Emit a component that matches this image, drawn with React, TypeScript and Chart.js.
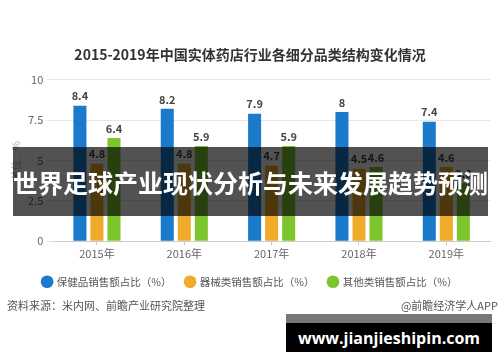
import React, { useEffect, useRef } from "react";
import { Chart, registerables } from "chart.js";

Chart.register(...registerables);

const categories = ["2015年", "2016年", "2017年", "2018年", "2019年"];
const healthValues = [8.4, 8.2, 7.9, 8, 7.4];
const deviceValues = [4.8, 4.8, 4.7, 4.5, 4.6];
const otherValues = [6.4, 5.9, 5.9, 4.6, 3.6];
const seriesNames = ["保健品销售额占比（%）", "器械类销售额占比（%）", "其他类销售额占比（%）"];
const yTicks = [0, 2.5, 5, 7.5, 10];

const FONT = "'Noto Sans CJK SC', 'Noto Sans', sans-serif";

const valueLabels = {
  id: "valueLabels",
  afterDatasetsDraw(chart: any) {
    const ctx = chart.ctx;
    ctx.save();
    ctx.font = `bold 11px ${FONT}`;
    ctx.fillStyle = "#444";
    ctx.textAlign = "center";
    ctx.textBaseline = "bottom";
    chart.data.datasets.forEach((ds: any, i: number) => {
      const meta = chart.getDatasetMeta(i);
      meta.data.forEach((bar: any, j: number) => {
        ctx.fillText(String(ds.data[j]), bar.x, bar.y - 4);
      });
    });
    ctx.restore();
  },
};

export default function App() {
  const ref = useRef<HTMLCanvasElement>(null);
  useEffect(() => {
    document.body.style.margin = "0";
    const chart = new Chart(ref.current!, {
      type: "bar",
      data: {
        labels: categories,
        datasets: [
          { label: seriesNames[0], data: healthValues, backgroundColor: "#1b7acc" },
          { label: seriesNames[1], data: deviceValues, backgroundColor: "#f0ab2a" },
          { label: seriesNames[2], data: otherValues, backgroundColor: "#7cc52d" },
        ],
      },
      options: {
        responsive: false,
        animation: false,
        devicePixelRatio: 1,
        layout: { padding: { left: 10, right: 10, top: 0, bottom: 65 } },
        datasets: { bar: { categoryPercentage: 0.585, barPercentage: 0.765 } },
        plugins: {
          title: {
            display: true,
            text: "2015-2019年中国实体药店行业各细分品类结构变化情况",
            color: "#333",
            font: { family: FONT, size: 14, weight: "bold" },
            padding: { top: 46, bottom: 17 },
          },
          legend: {
            position: "bottom",
            labels: {
              usePointStyle: true,
              pointStyle: "circle",
              boxWidth: 9,
              boxHeight: 9,
              padding: 14,
              color: "#555",
              font: { family: FONT, size: 10.5 },
            },
          },
          tooltip: { enabled: false },
        },
        scales: {
          x: {
            grid: { display: true, drawOnChartArea: false, offset: false, tickLength: 4, color: "#ccc" },
            border: { color: "#ccc" },
            ticks: { color: "#666", font: { family: FONT, size: 11 }, padding: 2 },
          },
          y: {
            min: 0,
            max: 10,
            afterBuildTicks: (axis: any) => {
              axis.ticks = yTicks.map((v) => ({ value: v }));
            },
            grid: { color: "#e6e6e6", tickLength: 6 },
            border: { display: false },
            ticks: { color: "#666", font: { family: FONT, size: 11 }, padding: 4 },
            title: {
              display: true,
              text: "单位：%",
              color: "#aaa",
              font: { family: FONT, size: 10 },
              padding: { top: 0, bottom: 2 },
            },
          },
        },
      },
      plugins: [valueLabels],
    });
    return () => chart.destroy();
  }, []);

  return (
    <div style={{ position: "relative", width: 500, height: 362, background: "#fff", overflow: "hidden", fontFamily: FONT }}>
      <canvas ref={ref} width={500} height={362} style={{ position: "absolute", left: 0, top: 0 }} />
      <div style={{ position: "absolute", left: 7, top: 297, fontSize: 11, color: "#555", whiteSpace: "nowrap" }}>
        资料来源：米内网、前瞻产业研究院整理
      </div>
      <div style={{ position: "absolute", right: 2, top: 297, fontSize: 11, color: "#555", whiteSpace: "nowrap" }}>
        @前瞻经济学人APP
      </div>
      <div
        style={{
          position: "absolute",
          left: 13,
          top: 147,
          width: 475,
          height: 69,
          background: "rgba(0,0,0,0.68)",
          color: "#fff",
          fontSize: 25,
          fontWeight: "bold",
          display: "flex",
          alignItems: "center",
          justifyContent: "center",
          whiteSpace: "nowrap",
        }}
      >
        世界足球产业现状分析与未来发展趋势预测
      </div>
      <div style={{ position: "absolute", left: 286, top: 314, width: 206, height: 9, background: "#777" }} />
      <div
        style={{
          position: "absolute",
          left: 286,
          top: 323,
          width: 206,
          height: 29,
          background: "#000",
          color: "#fff",
          fontFamily: "'Open Sans', sans-serif",
          fontWeight: "bold",
          fontSize: 16,
          display: "flex",
          alignItems: "center",
          justifyContent: "center",
          whiteSpace: "nowrap",
        }}
      >
        www.jianjieshipin.com
      </div>
    </div>
  );
}
